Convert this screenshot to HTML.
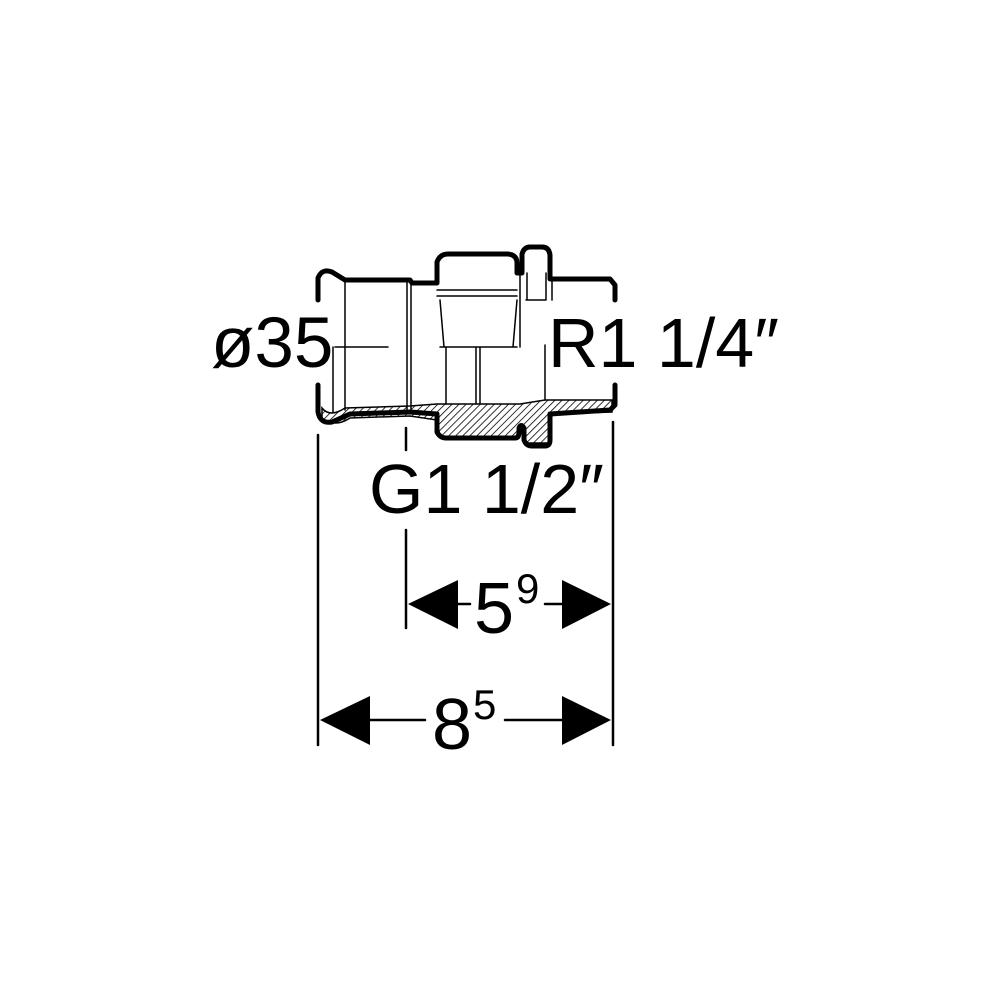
<!DOCTYPE html>
<html><head><meta charset="utf-8"><style>
html,body{margin:0;padding:0;background:#fff;width:1000px;height:1000px;overflow:hidden}
svg{display:block}
text{font-family:"Liberation Sans",sans-serif;fill:#000}
</style></head><body>
<svg width="1000" height="1000" viewBox="0 0 1000 1000" xmlns="http://www.w3.org/2000/svg">
<defs>
<pattern id="h" width="5" height="5" patternUnits="userSpaceOnUse" patternTransform="rotate(45)">
<rect width="5" height="5" fill="#fff"/><line x1="0" y1="0" x2="0" y2="5" stroke="#000" stroke-width="1.6"/>
</pattern>
</defs>
<path d="M322,408 Q330,418 345,408 L410,406 L437,404 L520,404 L545,400 L612,400 L612,412 L552,414 L550,443 L524,443 L522,432 L517,437 L440,437 L437,420 L410,416 L350,418 Q335,428 322,418 Z" fill="url(#h)" stroke="#000" stroke-width="1.5"/>
<g fill="none" stroke="#000" stroke-linecap="round" stroke-linejoin="round">
<path d="M318,300 L318,278 Q322,268 332,272 L345,280 L410,280 L412,283 L437,283 L437,262 Q440,254 448,254 L508,254 Q517,255 517,263 L517,273 L522,273 L522,254 Q524,247 530,247 L542,247 Q549,247 550,255 L550,279 L610,279 L615,285 L615,300" stroke-width="5"/>
<path d="M318,385 L318,412 Q320,424 332,422 L350,414 L410,412 L437,414 L437,432 Q440,438 446,438 L515,438 Q519,438 519,432 L519,428 Q521,423 524,428 L524,440 Q526,446 532,446 L545,446 Q550,446 550,440 L550,414 L610,410 L615,405 L615,385" stroke-width="5"/>
<path d="M345,280 L345,410 M335,347 L388,347 M407,282 L407,410 M411,283 L411,410 M333,347 L333,412" stroke-width="1.5"/>
<path d="M437,290 L517,290 M437,296 L517,296 M440,300 L444,347 L513,347 L517,300 M440,347 L517,347 M446,347 L446,404 M476,347 L476,404 M480,347 L480,404 M520,273 L520,347 M527,273 L527,300 M546,273 L546,300 M526,300 L546,300 M545,345 L545,400 M552,279 L552,300" stroke-width="1.5"/>
<path d="M318,435 L318,745 M406,428 L406,450 M406,530 L406,628 M613,422 L613,745" stroke-width="2.5"/>
<path d="M458,604 L470,604 M545,604 L562,604 M370,720 L425,720 M505,720 L562,720" stroke-width="2.5"/>
</g>
<g fill="#000">
<polygon points="408,604 458,580 458,629"/>
<polygon points="611,604 562,580 562,629"/>
<polygon points="320,720 370,696 370,745"/>
<polygon points="611,720 562,696 562,745"/>
</g>
<text x="211" y="367" font-size="71">ø35</text>
<text x="548" y="367" font-size="70">R1 1/4″</text>
<text x="369" y="513" font-size="70">G1 1/2″</text>
<text x="474" y="633" font-size="72">5</text>
<text x="516" y="603" font-size="42">9</text>
<text x="432" y="749" font-size="72">8</text>
<text x="473" y="719" font-size="42">5</text>
</svg>
</body></html>
